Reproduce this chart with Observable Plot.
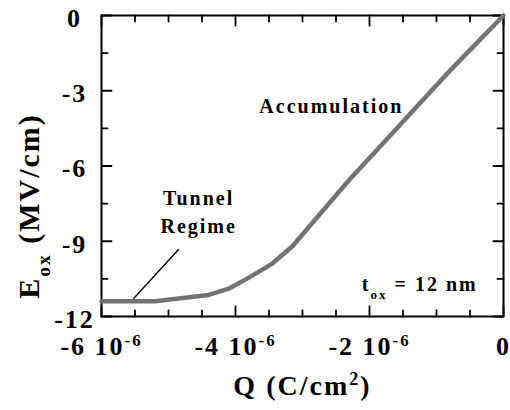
<!DOCTYPE html>
<html>
<head>
<meta charset="utf-8">
<script src="https://cdn.jsdelivr.net/npm/d3@7"></script>
<script src="https://cdn.jsdelivr.net/npm/@observablehq/plot@0.6"></script>
<style>
  body { margin: 0; background: #fff; }
  #chart svg { font-family: "Liberation Serif", "Times New Roman", serif; font-weight: bold; }
  #chart svg text { letter-spacing: 2px; }
</style>
</head>
<body>
<div id="chart"></div>
<script>
// Oxide field versus gate charge, t_ox = 12 nm
const chargeQ = [-6.0e-6, -5.2e-6, -4.4e-6, -4.1e-6, -3.8e-6, -3.45e-6, -3.15e-6, -2.8e-6, -2.3e-6, -1.8e-6, -1.3e-6, -0.8e-6, -0.4e-6, 0];
const fieldE  = [-11.39, -11.39, -11.14, -10.89, -10.45, -9.89, -9.2, -8.1, -6.55, -5.1, -3.65, -2.2, -1.1, 0];

const xMajorTicks = [-6e-6, -4e-6, -2e-6, 0];
const xTickLabels = ["-6 10^{-6}", "-4 10^{-6}", "-2 10^{-6}", "0"];
const xMinorTicks = [-5.5e-6, -5e-6, -4.5e-6, -3.5e-6, -3e-6, -2.5e-6, -1.5e-6, -1e-6, -0.5e-6];
const yMajorTicks = [0, -3, -6, -9, -12];
const yTickLabels = ["0", "-3", "-6", "-9", "-12"];
const yMinorTicks = [-1.5, -4.5, -7.5, -10.5];

const regionLabels = ["Tunnel", "Regime", "Accumulation"];
const regionQ = [-4.55e-6, -4.55e-6, -2.57e-6];
const regionE = [-7.30, -8.41, -3.63];
const pointerQ = [-5.52e-6, -4.85e-6];
const pointerE = [-11.28, -9.33];
const thicknessNote = "t_{ox} = 12 nm";
const noteQ = -1.25e-6, noteE = -10.73;

const curve = chargeQ.map((q, i) => ({q, e: fieldE[i]}));
const regions = regionLabels.map((t, i) => ({t, q: regionQ[i], e: regionE[i]}));
const pointer = pointerQ.map((q, i) => ({q, e: pointerE[i]}));

const xDom = [-6e-6, 0], yDom = [-12, 0];
const W = 510, H = 410, mL = 101, mR = 7, mT = 15, mB = 94;
// tick lengths expressed in data units
const pxX = (xDom[1] - xDom[0]) / (W - mL - mR);
const pxY = (yDom[1] - yDom[0]) / (H - mT - mB);
const majLen = 10, minLen = 6;

// each tick is a two-point polyline, grouped by id; ticks point inward on all four sides
let tickId = 0;
const tickPts = [];
const addSeg = (x1, y1, x2, y2) => { tickId++; tickPts.push({id: tickId, x: x1, y: y1}, {id: tickId, x: x2, y: y2}); };
const addXTicks = (vals, len) => vals.forEach(v => {
  addSeg(v, yDom[0], v, yDom[0] + len * pxY);
  addSeg(v, yDom[1], v, yDom[1] - len * pxY);
});
const addYTicks = (vals, len) => vals.forEach(v => {
  addSeg(xDom[0], v, xDom[0] + len * pxX, v);
  addSeg(xDom[1], v, xDom[1] - len * pxX, v);
});
addXTicks(xMajorTicks, majLen); addXTicks(xMinorTicks, minLen);
addYTicks(yMajorTicks, majLen); addYTicks(yMinorTicks, minLen);

// closed box around the plotting area
const box = [
  {x: xDom[0], y: yDom[0]}, {x: xDom[1], y: yDom[0]}, {x: xDom[1], y: yDom[1]},
  {x: xDom[0], y: yDom[1]}, {x: xDom[0], y: yDom[0]}
];

const chart = Plot.plot({
  width: W, height: H,
  marginLeft: mL, marginRight: mR, marginTop: mT, marginBottom: mB,
  x: {domain: xDom, axis: null},
  y: {domain: yDom, axis: null},
  marks: [
    Plot.line(tickPts, {x: "x", y: "y", z: "id", stroke: "black", strokeWidth: 1.8}),
    Plot.line(box, {x: "x", y: "y", stroke: "black", strokeWidth: 2, strokeLinejoin: "miter"}),
    Plot.line(curve, {x: "q", y: "e", stroke: "#737373", strokeWidth: 4.5, strokeLinejoin: "round"}),
    Plot.line(pointer, {x: "q", y: "e", stroke: "black", strokeWidth: 1.3}),
    Plot.text(regions, {x: "q", y: "e", text: "t", fontSize: 20, textAnchor: "middle", lineAnchor: "middle", fill: "black"}),
    Plot.text([thicknessNote], {x: () => noteQ, y: () => noteE, text: d => d, fontSize: 20, textAnchor: "middle", lineAnchor: "middle", fill: "black"}),
    Plot.text(yMajorTicks, {x: xDom[0], y: d => d, text: (d, i) => yTickLabels[i], dx: -27, dy: 3, fontSize: 26, textAnchor: "middle", lineAnchor: "middle", fill: "black"}),
    Plot.text(xMajorTicks, {x: d => d, y: yDom[0], text: (d, i) => xTickLabels[i], dy: 30, fontSize: 26, textAnchor: "middle", lineAnchor: "middle", fill: "black"}),
    Plot.text(["Q (C/cm^{2})"], {frameAnchor: "bottom", text: d => d, dy: 70, fontSize: 28, textAnchor: "middle", lineAnchor: "middle", fill: "black"}),
    Plot.text(["E_{ox} (MV/cm)"], {frameAnchor: "left", text: d => d, dx: -72, dy: 40, rotate: -90, fontSize: 30, textAnchor: "middle", lineAnchor: "middle", fill: "black"})
  ]
});

// turn ^{...} and _{...} into raised / lowered runs
d3.select(chart).selectAll("text").each(function () {
  const s = this.textContent;
  if (!/[\^_]\{/.test(s)) return;
  const parts = s.split(/([\^_]\{[^}]*\})/).filter(p => p);
  const el = d3.select(this);
  el.text("");
  parts.forEach(p => {
    if (p[0] === "^" || p[0] === "_") {
      el.append("tspan")
        .attr("baseline-shift", p[0] === "^" ? "super" : "sub")
        .attr("font-size", "65%")
        .text(p.slice(2, -1));
    } else {
      el.append("tspan").text(p);
    }
  });
});

document.getElementById("chart").append(chart);
</script>
</body>
</html>
